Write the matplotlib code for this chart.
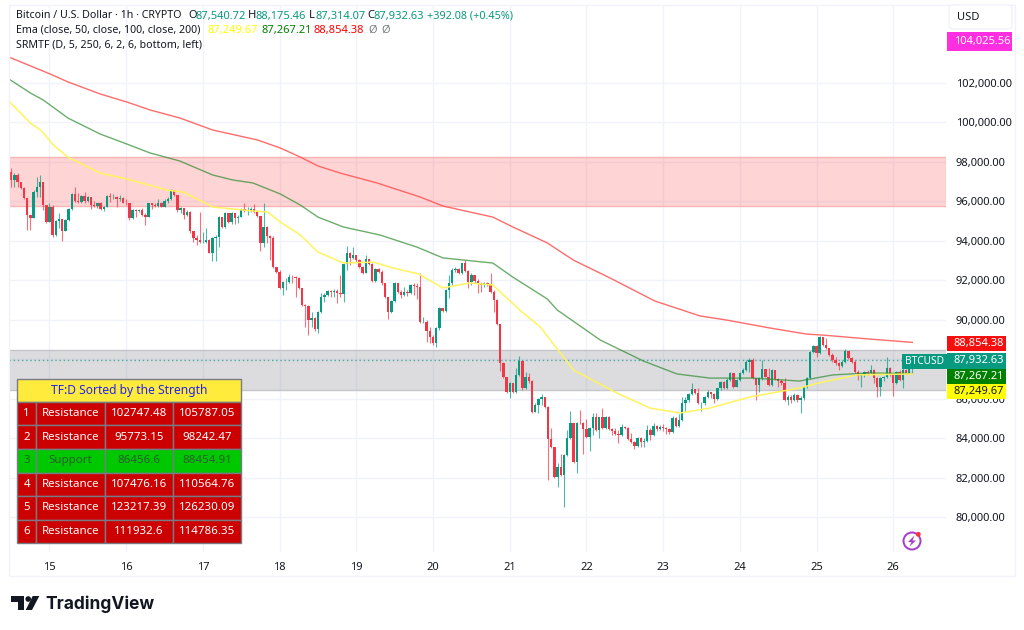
import matplotlib
matplotlib.use("Agg")
import matplotlib.pyplot as plt
from matplotlib.patches import Rectangle, Circle, Polygon, FancyBboxPatch

# ---------- data (prices in thousands of USD) ----------
first_open = 97.50
closes = [97.08,97.33,96.99,96.66,96.15,95.30,95.14,96.49,96.74,96.99,95.81,94.97,95.73,94.29,95.02,95.08,94.51,95.05,95.59,96.37,
96.03,95.98,96.27,96.01,96.23,95.81,95.78,95.90,95.59,95.73,96.27,96.20,96.23,96.10,96.18,95.93,95.90,95.14,95.56,95.52,
95.56,95.30,95.22,95.90,95.81,95.78,95.90,95.73,96.03,96.10,96.57,96.32,95.56,95.64,95.30,95.47,94.51,94.12,94.04,93.95,
93.95,94.04,93.39,94.12,94.21,95.22,94.71,95.39,94.97,95.39,95.14,95.22,95.59,95.52,95.56,95.59,95.47,95.25,93.87,94.71,
94.24,94.12,92.65,92.40,91.59,91.93,91.93,92.18,92.15,92.10,91.59,90.74,90.71,89.98,90.07,89.51,90.40,91.13,91.25,91.47,
91.42,91.45,91.37,91.30,92.82,93.40,93.11,93.28,93.02,92.69,92.38,93.06,92.82,91.98,92.55,92.43,91.84,91.13,90.40,90.95,
91.84,91.42,91.25,91.42,91.33,91.76,91.71,91.67,89.90,89.90,89.44,89.14,88.80,89.56,90.57,90.44,91.50,91.84,92.52,92.55,
92.35,92.86,92.48,91.93,92.26,91.98,91.79,91.76,91.88,91.76,91.42,91.00,89.78,87.79,87.11,86.35,86.81,86.35,87.20,87.92,
86.52,87.11,86.91,85.34,85.67,85.96,86.06,85.59,83.95,83.53,82.04,82.55,82.13,83.14,83.98,84.75,82.80,84.78,84.75,84.44,
84.07,84.49,85.05,84.41,85.05,84.49,85.08,84.44,84.37,84.19,84.15,84.54,84.49,83.93,83.82,83.60,83.98,83.82,83.87,84.41,
84.15,84.61,84.44,84.58,84.53,84.44,84.32,85.00,84.61,84.91,85.79,85.93,86.23,86.49,86.27,85.76,85.76,86.10,86.35,86.23,
85.96,86.52,86.86,86.52,86.94,87.31,86.60,86.94,87.28,87.45,87.87,87.96,87.03,86.69,87.03,87.48,87.11,86.69,87.45,86.98,
86.89,86.77,85.93,86.06,85.93,86.18,85.93,86.01,86.60,87.03,88.34,88.67,88.29,89.10,88.72,88.55,88.21,87.96,87.79,87.65,
87.87,88.43,88.04,87.87,87.36,87.14,87.19,87.36,87.31,87.45,87.03,86.60,87.03,87.08,87.53,87.19,86.77,87.36,86.94,87.45,
87.31,87.54,87.93]
highs = [97.67,97.42,97.45,96.88,96.74,96.15,95.30,96.57,97.25,97.33,96.99,95.81,95.90,95.81,95.05,95.39,95.08,95.08,95.68,96.40,
96.71,96.40,96.32,96.49,96.27,96.23,96.03,95.93,95.98,95.76,96.32,96.40,96.37,96.27,96.32,96.23,96.10,95.93,95.59,95.59,
95.59,95.64,95.39,95.93,95.93,95.90,96.10,95.98,96.10,96.20,96.61,96.57,96.32,95.73,95.64,95.56,95.52,94.51,94.29,95.47,
94.46,94.63,94.07,94.17,94.29,95.25,95.22,95.47,95.42,95.47,95.22,95.30,95.68,95.93,95.73,95.69,95.85,95.56,95.25,95.93,
94.75,94.29,94.24,92.65,92.52,91.96,92.13,92.30,92.26,92.21,92.15,91.59,90.79,90.74,90.40,90.12,90.46,91.34,91.34,91.50,
91.50,91.54,91.54,92.26,92.86,93.73,93.45,93.67,93.28,93.06,92.72,93.28,93.06,92.86,92.60,92.60,92.52,91.88,91.13,91.00,
91.93,91.88,91.50,91.67,91.50,91.81,91.84,91.84,92.35,90.15,89.98,89.65,89.22,89.61,90.66,90.57,91.54,92.26,92.60,92.65,
92.60,92.89,93.02,92.52,92.35,92.26,92.05,91.93,91.93,91.93,92.35,91.50,91.03,89.78,87.87,87.11,86.86,86.81,87.53,88.16,
87.96,87.37,87.28,86.94,85.76,86.01,86.23,86.10,85.62,84.49,83.56,82.75,83.19,83.19,84.41,85.37,84.78,84.83,85.42,84.83,
84.95,84.54,85.25,85.25,85.08,85.50,85.12,85.12,84.49,84.49,84.41,84.71,84.61,84.54,84.24,83.85,84.04,84.07,83.98,84.66,
84.49,84.78,84.66,84.66,84.71,84.58,84.49,85.12,85.05,85.22,86.06,86.10,86.26,86.81,86.49,86.52,85.84,86.13,86.43,86.35,
86.30,86.55,86.89,86.89,87.03,87.36,87.31,86.98,87.36,87.57,87.96,88.04,88.04,87.03,87.08,87.96,87.48,87.53,87.48,87.41,
87.03,86.98,87.03,86.18,86.18,86.27,86.23,86.13,86.64,87.08,88.41,88.72,88.72,89.17,89.14,89.05,88.55,88.29,88.09,87.87,
87.96,88.50,88.33,88.09,87.96,87.45,87.28,87.41,87.45,87.70,87.48,87.08,87.11,87.14,88.09,87.62,87.28,87.41,87.45,88.21,
87.48,87.58,88.18]
lows = [96.74,96.74,96.74,96.60,96.10,94.54,94.54,95.14,96.23,96.23,95.56,94.92,94.97,94.17,94.24,94.63,94.00,94.51,95.02,95.56,
95.98,95.93,95.93,95.93,95.98,95.59,95.73,95.64,95.56,95.52,95.69,95.98,96.10,95.69,96.03,95.90,95.81,95.05,95.08,95.20,
95.47,95.25,94.80,95.19,95.59,95.73,95.73,95.69,95.69,95.93,96.07,96.27,95.47,95.39,95.08,95.25,94.41,93.95,93.78,93.90,
93.87,93.90,93.36,92.97,92.97,93.70,94.63,94.63,94.88,94.85,94.85,94.88,95.19,95.47,95.30,95.47,95.39,95.19,93.50,93.70,
93.87,93.02,92.60,92.35,91.54,91.25,91.50,91.87,91.84,91.13,91.54,90.69,89.65,89.22,89.61,89.44,89.31,90.35,90.91,91.20,
91.17,91.13,90.83,91.17,90.91,92.52,92.77,93.06,92.94,92.60,92.31,92.35,92.77,91.93,91.93,92.38,91.76,91.08,90.02,90.32,
90.91,91.37,91.08,91.20,91.20,91.30,91.25,91.03,89.85,89.85,88.88,88.80,88.72,88.60,89.48,90.40,90.40,91.08,91.76,92.43,
92.30,92.31,92.43,91.59,91.76,91.88,91.37,91.42,91.67,91.71,91.37,90.40,89.73,87.41,87.03,86.26,86.01,86.30,86.30,87.15,
86.43,86.47,86.77,85.29,85.30,85.29,85.67,85.50,81.87,83.48,82.00,81.53,82.07,80.52,83.09,83.93,82.75,82.21,84.71,83.19,
84.02,83.34,84.15,84.37,83.98,84.44,84.44,84.41,84.15,84.15,83.73,84.10,84.44,83.90,83.76,83.43,83.56,83.53,83.56,83.82,
83.90,84.10,84.37,84.41,84.37,84.20,84.19,84.27,84.58,84.58,84.86,85.34,85.84,86.18,86.22,85.72,85.39,85.67,86.01,86.01,
85.76,85.93,86.43,86.47,86.47,86.91,86.55,86.57,86.91,87.25,87.42,87.36,86.98,85.93,86.35,86.94,87.08,86.64,86.64,86.94,
86.60,86.69,85.88,85.67,85.76,85.89,85.84,85.25,85.93,86.52,86.98,88.29,88.09,88.26,88.67,88.50,88.16,87.87,87.70,87.45,
87.62,87.82,87.99,87.79,87.31,86.94,86.60,87.11,87.19,87.28,86.77,86.10,86.13,86.91,87.03,87.14,86.13,86.74,86.91,86.52,
87.25,87.28,87.31]

ema200_days = [14.47,15.01,15.24,15.66,16.01,16.31,16.70,17.13,17.71,18.01,18.27,18.50,18.79,19.27,19.83,20.13,20.78,21.04,21.49,21.83,22.31,22.89,23.48,23.83,24.39,24.87,25.08,25.69,26.25]
ema200 = [103.31,102.45,102.05,101.44,101.03,100.63,100.22,99.61,99.11,98.70,98.24,97.79,97.43,96.93,96.22,95.76,95.20,94.70,93.89,93.02,92.11,90.95,90.19,89.98,89.58,89.27,89.22,89.02,88.85]
ema100_days = [14.47,14.75,14.92,15.24,15.66,16.01,16.31,16.70,17.13,17.39,17.65,18.01,18.27,18.50,18.83,19.31,19.79,20.13,20.78,21.04,21.49,21.62,22.18,22.74,23.18,23.61,24.17,24.78,25.21,25.69,26.25]
ema100 = [102.20,101.49,101.13,100.22,99.41,98.90,98.45,98.04,97.33,97.08,96.93,96.37,95.81,95.20,94.70,94.29,93.68,93.13,92.87,92.16,91.05,90.49,88.97,87.91,87.25,87.04,87.04,86.89,87.20,87.30,87.27]
ema50_days = [14.47,14.75,14.90,15.05,15.24,15.66,16.01,16.53,16.74,17.13,17.65,17.84,18.01,18.27,18.50,18.83,19.22,19.48,19.81,20.13,20.48,20.78,21.13,21.40,21.53,21.83,22.40,22.83,23.22,23.61,24.13,24.78,25.08,25.53,26.25]
ema50 = [101.08,99.97,99.56,98.85,98.24,97.43,97.13,96.57,96.47,95.71,95.51,95.46,94.95,94.29,93.43,92.87,92.92,92.62,92.32,91.61,91.86,91.76,90.49,89.63,88.97,87.45,86.28,85.52,85.27,85.52,86.08,86.54,86.84,87.20,87.25]

resistance_band = (95.77315, 98.24247)
support_band = (86.4566, 88.45491)
last_close = 87.93263

price_ticks = [80,82,84,86,88,90,92,94,96,98,100,102]
day_ticks = [15,16,17,18,19,20,21,22,23,24,25,26]

table_header = "TF:D Sorted by the Strength"
table_rows = [
    ("1","Resistance","102747.48","105787.05"),
    ("2","Resistance","95773.15","98242.47"),
    ("3","Support","86456.6","88454.91"),
    ("4","Resistance","107476.16","110564.76"),
    ("5","Resistance","123217.39","126230.09"),
    ("6","Resistance","111932.6","114786.35"),
]

UP, DOWN = "#089981", "#F23645"
FONT = "Noto Sans"
plt.rcParams["font.family"] = [FONT, "DejaVu Sans"]

W, H = 1024, 630
fig = plt.figure(figsize=(W/100, H/100), dpi=100, facecolor="white")
L, R, T, B = 9, 946, 5, 552
ax = fig.add_axes([L/W, 1-B/H, (R-L)/W, (B-T)/H], facecolor="white")
ax.set_xlim(15+(L-49.5)/76.7, 15+(R-49.5)/76.7)
ax.set_ylim(80+(517-B)*0.05068, 80+(517-T)*0.05068)
for s in ax.spines.values():
    s.set_visible(False)
ax.grid(True, color="#F0F3FA", lw=1, zorder=0)
ax.set_axisbelow(True)

ax.yaxis.tick_right()
ax.set_yticks(price_ticks)
ax.set_yticklabels([f"{p*1000:,.2f}" for p in price_ticks], fontsize=8.0, color="#131722")
ax.set_xticks(day_ticks)
ax.set_xticklabels([str(d) for d in day_ticks], fontsize=8.0, color="#131722")
ax.tick_params(axis="both", length=0)
ax.tick_params(axis="x", pad=7)
ax.tick_params(axis="y", pad=7)
for lab in ax.get_xticklabels():
    if lab.get_text() in ("17", "24"):
        lab.set_fontweight("bold")

# zones
ax.axhspan(*resistance_band, facecolor=(1, 0, 0, 0.17), edgecolor="#F7B5B5", lw=1, zorder=1)
ax.axhspan(*support_band, facecolor=(120/255, 123/255, 134/255, 0.26), edgecolor="#C4C5CA", lw=1, zorder=1)

# candles
t = [14.5 + i/24 for i in range(len(closes))]
opens = [first_open] + closes[:-1]
colors = [UP if c >= o else DOWN for o, c in zip(opens, closes)]
ax.vlines(t, lows, highs, colors=colors, lw=0.8, alpha=0.7, zorder=3)
ax.bar(t, [c-o for o, c in zip(opens, closes)], bottom=opens, width=0.75/24,
       color=colors, linewidth=0, zorder=4)

# EMA lines
ax.plot(ema200_days, ema200, color="#FF5252", lw=1, alpha=0.85, zorder=5)
ax.plot(ema100_days, ema100, color="#2E8B2E", lw=1, alpha=0.7, zorder=5)
ax.plot(ema50_days, ema50, color="#FFF45C", lw=1.1, zorder=5)
ax.axhline(last_close, color=UP, lw=1, ls=(0, (1, 2)), alpha=0.7, zorder=2)

# overlay in pixel coordinates
ov = fig.add_axes([0, 0, 1, 1], facecolor="none", zorder=10)
ov.set_xlim(0, W); ov.set_ylim(H, 0); ov.axis("off")
ov.add_patch(Rectangle((8.5, 5), 1015-8.5, 576-5, fill=False, ec="#F0F3FA", lw=1))

def txt(x, y, s, color="#131722", size=8.0, ha="left", **kw):
    return ov.text(x, y, s, color=color, fontsize=size, ha=ha, va="center", **kw)

# legend lines
txt(16, 16, "Bitcoin / U.S. Dollar · 1h · CRYPTO", size=7.65)
for x, s, c in [(188,"O","#131722"),(195.5,"87,540.72",UP),(248,"H","#131722"),(255.5,"88,175.46",UP),
                (309,"L","#131722"),(315,"87,314.07",UP),(367,"C","#131722"),(374,"87,932.63",UP)]:
    txt(x, 16, s, c)
txt(427, 16, "+392.08 (+0.45%)", UP, size=7.8)
txt(16, 30, "Ema (close, 50, close, 100, close, 200)", size=7.65)
for x, s, c in [(207,"87,249.67","#FFFF00"),(261,"87,267.21","#008000"),(313,"88,854.38","#FF0000"),
                (368,"Ø","#787B86"),(381,"Ø","#787B86")]:
    txt(x, 30, s, c)
txt(16, 45, "SRMTF (D, 5, 250, 6, 2, 6, bottom, left)", size=7.65)

# price scale tags
ov.add_patch(FancyBboxPatch((951, 7), 59, 20, boxstyle="round,pad=2,rounding_size=4", fc="white", ec="#F0F3FA", lw=1))
txt(957, 17, "USD")
for y0, y1, s, bg, fg in [(32,51,"104,025.56","#FF2EE0","white"),
                          (336,351,"88,854.38","#F50F0F","white"),
                          (353,369,"87,932.63",UP,"white"),
                          (369,384,"87,267.21","#008000","white"),
                          (384,399,"87,249.67","#FFFF00","#131722")]:
    x1 = 1011.5 if y0 == 32 else 1006
    ov.add_patch(Rectangle((947, y0), x1-947, y1-y0, fc=bg, ec="none"))
    txt(954, (y0+y1)/2, s, fg)
ov.add_patch(Rectangle((902, 354), 45, 15, fc=UP, ec="none"))
txt(924, 361.5, "BTCUSD", "white", size=7.3, ha="center")

# table
cols = [17.3, 36, 105, 173, 240.7]
top, hdr_bottom, row_h = 379, 401.7, 23.6
ov.add_patch(Rectangle((cols[0], top), cols[-1]-cols[0], hdr_bottom-top, fc="#FFEB3B", ec="#787B86", lw=1))
txt((cols[0]+cols[-1])/2, (top+hdr_bottom)/2, table_header, "#2222EE", size=8.7, ha="center")
for r, row in enumerate(table_rows):
    y0 = hdr_bottom + r*row_h
    support = row[1] == "Support"
    for c, cell in enumerate(row):
        ov.add_patch(Rectangle((cols[c], y0), cols[c+1]-cols[c], row_h,
                               fc="#00C800" if support else "#CC0000", ec="#787B86", lw=1))
        txt((cols[c]+cols[c+1])/2, y0+row_h/2, cell, "#2A5F2E" if support else "white",
            size=8.3, ha="center")

# TradingView logo
ov.add_patch(Polygon([(11,596),(24,596),(24,610),(18,610),(18,602),(11,602)], closed=True, fc="#131722", ec="none"))
ov.add_patch(Circle((28.2,599), 2.8, fc="#131722", ec="none"))
ov.add_patch(Polygon([(32.7,596),(39.3,596),(32,610),(25.7,610)], closed=True, fc="#131722", ec="none"))
ov.text(45, 609, "TradingView", color="#131722", fontsize=12.5, fontweight="bold",
        family=["Inter", "Roboto"], ha="left", va="baseline")

# assistant icon
ov.add_patch(Circle((912,541), 8.5, fc="white", ec="#A63CC8", lw=1.4))
ov.add_patch(Polygon([(914.5,535.5),(908,542),(911.5,542),(909.5,546.5),(916,540.5),(912.5,540.5)],
                     closed=True, fc="#A63CC8", ec="none"))
ov.add_patch(Circle((918.3,534.3), 2.4, fc="#F23645", ec="none"))

fig.savefig("out.png", dpi=100, facecolor="white")
